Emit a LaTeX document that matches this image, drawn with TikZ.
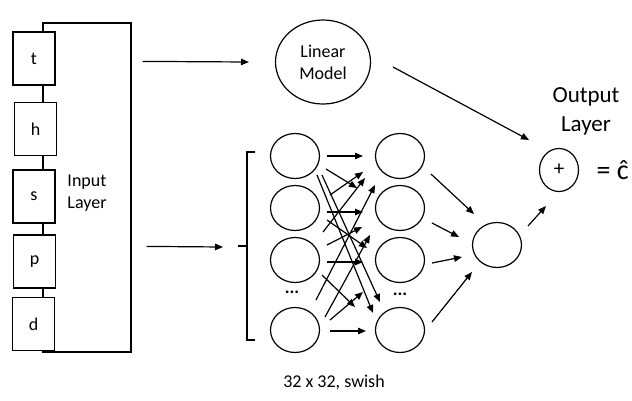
\documentclass[tikz,border=0pt]{standalone}
\usepackage{fontspec}
\setmainfont{Carlito}
\usetikzlibrary{arrows.meta,shapes.geometric,calc}
\begin{document}
\begin{tikzpicture}[x=1pt,y=-1pt,line width=1.2pt,
  inbox/.style={draw,fill=white,minimum width=42pt,minimum height=53pt,inner sep=0pt,font=\fontsize{18}{21}\selectfont},
  neuron/.style={draw,ellipse,minimum width=49pt,minimum height=45pt,inner sep=0pt},
  arr/.style={-{Triangle[length=8pt,width=6.5pt]}},
  lbl/.style={font=\fontsize{18}{22}\selectfont}]
\useasboundingbox (0,0) rectangle (632,400);
% input layer
\node[draw,minimum width=88pt,minimum height=329pt,inner sep=0pt] (inp) at (87,187.5) {};
\node[inbox] (t) at (34,58.5) {t};
\node[inbox] (h) at (35.5,129) {h};
\node[inbox] (s) at (34,196.5) {s};
\node[inbox] (p) at (34.5,261.5) {p};
\node[inbox] (d) at (33.5,324) {d};
\node[lbl,align=left] (inl) at (87,193) {Input\\Layer};
% linear model
\node[draw,ellipse,minimum width=95pt,minimum height=84pt,inner sep=0pt,lbl,align=center] (lin) at (323,62) {Linear\\Model};
% hidden layers
\node[neuron] (a1) at (295,156) {};
\node[neuron] (a2) at (295,208) {};
\node[neuron] (a3) at (295,260) {};
\node[neuron] (a4) at (295,330) {};
\node[neuron] (b1) at (400,156) {};
\node[neuron] (b2) at (400,208) {};
\node[neuron] (b3) at (400,260) {};
\node[neuron] (b4) at (400,330) {};
\node[font=\fontsize{18}{21}\selectfont\bfseries] (da) at (292,292) {...};
\node[font=\fontsize{18}{21}\selectfont\bfseries] (db) at (400,294) {...};
\node[neuron] (c) at (497,245) {};
% output
\node[draw,ellipse,minimum width=39pt,minimum height=43pt,inner sep=0pt,font=\fontsize{21}{24}\selectfont] (out) at (559,170) {+};
\node[font=\fontsize{23}{29}\selectfont,align=center] (outl) at (586,111) {Output\\Layer};
\node[font=\fontsize{28}{32}\selectfont,anchor=west,inner sep=0pt] (chat) at (596,170) {= ĉ};
\node[font=\fontsize{18}{21}\selectfont] (cap) at (334,382) {32 x 32, swish};
% brace
\coordinate (bt) at (238,246);
\draw (255,152) -- (247,152) -- (247,340) -- (255,340);
\draw (bt) -- (247,246);
% input arrows
\draw[arr] ($(inp.north east)+(11,39)$) -- ($(lin)+(-74,0)$);
\draw[arr] ($(inp.north east)+(15,224)$) -- ($(bt)+(-15,1)$);
\draw[arr] ($(lin)+(70,5)$) -- ($(out)+(-30,-30)$);
% layer 1 -> layer 2
\draw[arr] ($(a1)+(32,0)$) -- ($(b1)+(-37,0)$);
\draw[arr] ($(a2)+(32,4)$) -- ($(b2)+(-37,4)$);
\draw[arr] ($(a3)+(32,2)$) -- ($(b3)+(-37,2)$);
\draw[arr] ($(a4)+(35,1)$) -- ($(b4)+(-34,1)$);
\draw[arr] ($(a1)+(31,13)$) -- ($(b2)+(-43,-20)$);
\draw[arr] ($(a2)+(35,-13)$) -- ($(b1)+(-37,16)$);
\draw[arr] ($(a3)+(28,-28)$) -- ($(b1)+(-35,22)$);
\draw[arr] ($(a4)+(21,-30)$) -- ($(b1)+(-25,29)$);
\draw[arr] ($(a3)+(32,-15)$) -- ($(b2)+(-38,19)$);
\draw[arr] ($(a2)+(32,12)$) -- ($(b3)+(-33,-12)$);
\draw[arr] ($(a4)+(30,-13)$) -- ($(b2)+(-30,27)$);
\draw[arr] ($(a4)+(35,-10)$) -- ($(b3)+(-37,32)$);
\draw[arr] ($(a3)+(27,15)$) -- ($(b4)+(-45,-23)$);
\draw[arr] ($(a1)+(22,19)$) -- ($(b4)+(-27,-17)$);
\draw[arr] ($(a1)+(27,19)$) -- ($(b4)+(-20,-28)$);
% layer 2 -> c
\draw[arr] ($(b1)+(31,18)$) -- ($(c)+(-23,-31)$);
\draw[arr] ($(b2)+(32,15)$) -- ($(c)+(-38,-8)$);
\draw[arr] ($(b3)+(32,3)$) -- ($(c)+(-35,12)$);
\draw[arr] ($(b4)+(32,-8)$) -- ($(c)+(-25,27)$);
\draw[arr] ($(c)+(31,-19)$) -- ($(out)+(-13,36)$);
\end{tikzpicture}
\end{document}
